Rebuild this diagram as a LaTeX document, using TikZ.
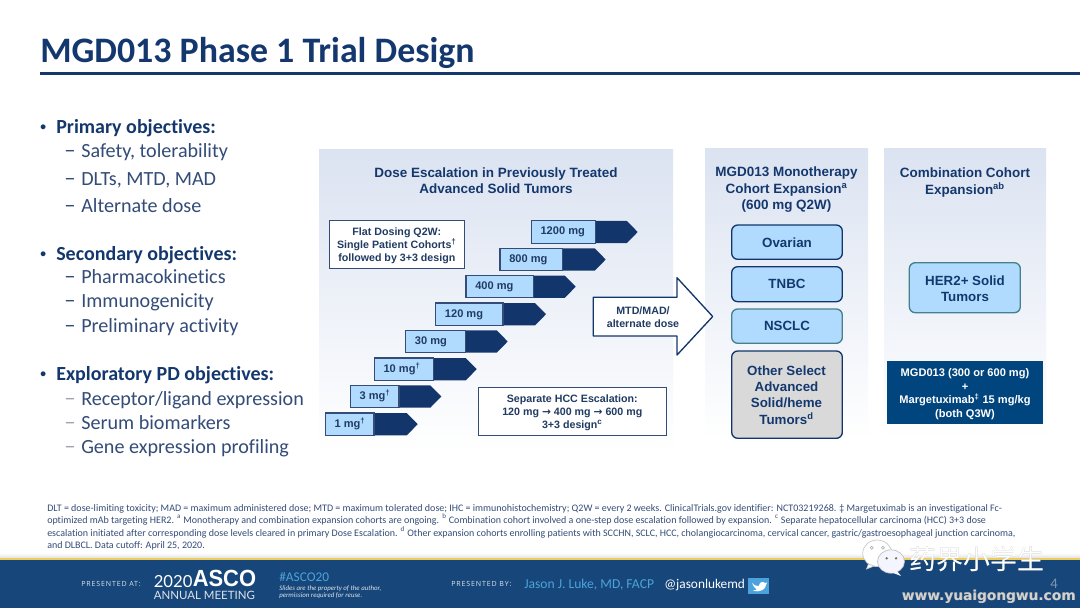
\documentclass[tikz,border=0pt]{standalone}
\usepackage{fontspec}
\setmainfont{Liberation Sans}
\newfontfamily\calfont[Ligatures=NoCommon]{Carlito}
\newfontfamily\spacedfont[LetterSpace=12]{Open Sans}
\newfontfamily\latofont{Lato}
\newfontfamily\cjkfont{Noto Sans CJK SC}
\newfontfamily\symfont{DejaVu Sans}
\usepackage{tkz-euclide}
\usetikzlibrary{calc}
\definecolor{TitleClr}{rgb}{0.08,0.22,0.43}
\definecolor{SubClr}{rgb}{0.20,0.30,0.47}
\definecolor{GreyClr}{rgb}{0.62,0.65,0.70}
\definecolor{PanelClr}{rgb}{0.86,0.89,0.945}
\definecolor{LightClr}{rgb}{0.69,0.86,1}
\definecolor{DarkClr}{rgb}{0.07,0.21,0.42}
\definecolor{LabelClr}{rgb}{0.13,0.23,0.39}
\definecolor{TealClr}{rgb}{0.27,0.50,0.55}
\definecolor{ComboClr}{rgb}{0,0.27,0.49}
\definecolor{FootClr}{rgb}{0.09,0.28,0.48}
\definecolor{SkyClr}{rgb}{0.30,0.64,0.86}
\definecolor{GoldClr}{rgb}{0.93,0.80,0.35}
\definecolor{OtherClr}{rgb}{0.85,0.85,0.85}

\tikzset{
  HeadLabel/.style={align=center,text=TitleClr,font=\fontsize{10.1}{12.4}\selectfont\bfseries,inner sep=0},
  BoxLabel/.style={align=center,text=LabelClr,font=\fontsize{8}{9.8}\selectfont\bfseries,inner sep=0},
  DoseLabel/.style={anchor=west,text=LabelClr,font=\fontsize{8.3}{9.8}\selectfont\bfseries,inner sep=0,text height=6pt,text depth=1.7pt},
  CohortLabel/.style={align=center,text=TitleClr,font=\fontsize{10}{12.2}\selectfont\bfseries,inner sep=0},
  MainItem/.style={anchor=base west,text=TitleClr,font=\calfont\fontsize{15}{18}\selectfont\bfseries,inner sep=0},
  BulletMark/.style={anchor=base west,text=TitleClr,font=\calfont\fontsize{8.6}{10}\selectfont\bfseries,inner sep=0},
  SubItem/.style={anchor=base west,text=SubClr,font=\calfont\fontsize{15.1}{18}\selectfont,inner sep=0},
  DashMark/.style={anchor=base west,text=SubClr,font=\calfont\fontsize{17}{18}\selectfont,inner sep=0},
  NoteLine/.style={anchor=base west,text=SubClr,font=\calfont\fontsize{7.5}{9}\selectfont,inner sep=0},
  WhiteBox/.style={draw=SubClr,fill=white,line width=.8pt},
  CohortBox/.style={draw=DarkClr,fill=LightClr,line width=1pt,rounded corners=4.5pt},
  FootLabel/.style={anchor=base west,inner sep=0,text depth=0pt},
}

\newcommand{\DoseArrow}[6]{%
  \fill[DarkClr] (#4,#3) -- (#5-11,#3) -- (#5,#3+11.2) -- (#5-11,#3+22.4) -- (#4,#3+22.4) -- cycle;
  \draw[line width=.8pt,draw=SubClr,fill=LightClr] (#2,#3) rectangle (#4,#3+22.4);
  \node[DoseLabel] (#1) at (#2+9,#3+11.2) {#6};
}

\begin{document}
\begin{tikzpicture}[x=.75pt,y=-.75pt]
\useasboundingbox (0,0) rectangle (1080,608);
\fill[white] (0,0) rectangle (1080,608);

% title
\node[anchor=base west,text=TitleClr,font=\calfont\fontsize{26.9}{30}\selectfont\bfseries,inner sep=0] (title) at (40,62) {MGD013 Phase 1 Trial Design};
\fill[TitleClr] (40,71.5) rectangle (1080,74.5);

% objectives
\node[BulletMark] (bulletA) at (40,130.5) {•};
\node[MainItem] (primary) at (56,133.5) {Primary objectives:};
\node[DashMark] (dashA) at (64,157.5) {–};
\node[SubItem] (safety) at (81,157.5) {Safety, tolerability};
\node[DashMark] (dashB) at (64,185.5) {–};
\node[SubItem] (dlts) at (81,185.5) {DLTs, MTD, MAD};
\node[DashMark] (dashC) at (64,212.5) {–};
\node[SubItem] (alternate) at (81,212.5) {Alternate dose};

\node[BulletMark] (bulletB) at (40,257.5) {•};
\node[MainItem] (secondary) at (56,260.5) {Secondary objectives:};
\node[DashMark] (dashD) at (64,283.5) {–};
\node[SubItem] (pharma) at (81,283.5) {Pharmacokinetics};
\node[DashMark] (dashE) at (64,307.5) {–};
\node[SubItem] (immuno) at (81,307.5) {Immunogenicity};
\node[DashMark] (dashF) at (64,332.5) {–};
\node[SubItem] (prelim) at (81,332.5) {Preliminary activity};

\node[BulletMark] (bulletC) at (40,377.5) {•};
\node[MainItem] (explore) at (56,380.5) {Exploratory PD objectives:};
\node[DashMark,text=GreyClr] (dashG) at (64,405.5) {–};
\node[SubItem] (receptor) at (81,405.5) {Receptor/ligand expression};
\node[DashMark,text=GreyClr] (dashH) at (64,429.5) {–};
\node[SubItem] (serum) at (81,429.5) {Serum biomarkers};
\node[DashMark,text=GreyClr] (dashI) at (64,453.5) {–};
\node[SubItem] (gene) at (81,453.5) {Gene expression profiling};

% panels
\shade[top color=PanelClr,bottom color=white] (319,149) rectangle (673,452);
\shade[top color=PanelClr,bottom color=white] (705,148) rectangle (868,440);
\shade[top color=PanelClr,bottom color=white] (884,148) rectangle (1046,440);

\node[HeadLabel] (doseHead) at (496,180.5) {Dose Escalation in Previously Treated\\Advanced Solid Tumors};
\node[HeadLabel] (monoHead) at (786.5,190) {MGD013 Monotherapy\\Cohort Expansion\textsuperscript{a}\\(600 mg Q2W)};
\node[HeadLabel] (comboHead) at (965,182.5) {Combination Cohort\\Expansion\textsuperscript{ab}};

% dose steps
\DoseArrow{doseK}{531.3}{220.8}{595.3}{637.7}{1200 mg}
\DoseArrow{doseJ}{500}{248.3}{562.7}{605.7}{800 mg}
\DoseArrow{doseI}{466}{275.5}{533.3}{575.7}{400 mg}
\DoseArrow{doseH}{435.7}{303}{503}{546}{120 mg}
\DoseArrow{doseG}{405.7}{330.3}{465.7}{507.7}{30 mg}
\DoseArrow{doseF}{374.3}{358}{433.7}{476.7}{10 mg\textsuperscript{†}}
\DoseArrow{doseE}{350.3}{385.3}{399}{441.3}{3 mg\textsuperscript{†}}
\DoseArrow{doseD}{325.3}{413}{374}{417.7}{1 mg\textsuperscript{†}}

\draw[WhiteBox] (329.3,220.8) rectangle (464.3,268.3);
\node[BoxLabel] (flat) at (396.8,246) {Flat Dosing Q2W:\\Single Patient Cohorts\textsuperscript{†}\\followed by 3+3 design};
\draw[WhiteBox] (478.3,387.7) rectangle (666.3,435.3);
\node[BoxLabel] (hcc) at (572.3,412.5) {Separate HCC Escalation:\\120 mg {\symfont→} 400 mg {\symfont→} 600 mg\\3+3 design\textsuperscript{c}};

% big arrow
\tkzDefPoints{593.3/297.3/P,677/297.3/Q,677/277.7/R,712.7/316.5/S,677/355/T,677/336/U,593.3/336/V}
\tkzFillPolygon[fill=white](P,Q,R,S,T,U,V)
\tkzDrawPolygon[line width=1pt,color=DarkClr](P,Q,R,S,T,U,V)
\node[BoxLabel] (mtd) at (643,317) {MTD/MAD/\\alternate dose};

% cohorts
\draw[CohortBox] (731.7,225) rectangle (842.3,259.3);
\node[CohortLabel] (ovarian) at (787,242.5) {Ovarian};
\draw[CohortBox] (731.7,266.7) rectangle (842.3,301.7);
\node[CohortLabel] (tnbc) at (787,284) {TNBC};
\draw[CohortBox,draw=TealClr] (731.7,309) rectangle (842.3,343.3);
\node[CohortLabel] (nsclc) at (787,326) {NSCLC};
\draw[CohortBox,fill=OtherClr] (731.7,351) rectangle (842.3,438.3);
\node[CohortLabel] (other) at (786.5,395) {Other Select\\Advanced\\Solid/heme\\Tumors\textsuperscript{d}};
\draw[CohortBox,draw=TealClr] (909.3,262.7) rectangle (1020.3,312.7);
\node[CohortLabel] (her2) at (965,288.5) {HER2+ Solid\\Tumors};
\fill[ComboClr] (887,360.7) rectangle (1042.7,424.3);
\node[BoxLabel,text=white,font=\fontsize{8.3}{10.3}\selectfont\bfseries] (combo) at (965,394) {MGD013 (300 or 600 mg)\\+\\Margetuximab\textsuperscript{‡} 15 mg/kg\\(both Q3W)};

% footnotes
\node[NoteLine] (noteA) at (47,511) {DLT = dose-limiting toxicity; MAD = maximum administered dose; MTD = maximum tolerated dose; IHC = immunohistochemistry;  Q2W = every 2 weeks. ClinicalTrials.gov identifier: NCT03219268. ‡ Margetuximab is an investigational Fc-};
\node[NoteLine] (noteB) at (47,523) {optimized mAb targeting HER2. \textsuperscript{a} Monotherapy and combination expansion cohorts are ongoing. \textsuperscript{b} Combination cohort involved  a one-step dose escalation followed by expansion. \textsuperscript{c} Separate hepatocellular carcinoma (HCC) 3+3 dose};
\node[NoteLine] (noteC) at (47,536) {escalation initiated after corresponding dose levels cleared in primary Dose Escalation. \textsuperscript{d} Other expansion cohorts enrolling patients with SCCHN, SCLC, HCC, cholangiocarcinoma, cervical cancer, gastric/gastroesophageal junction carcinoma,};
\node[NoteLine] (noteD) at (47,548) {and DLBCL.  Data cutoff: April 25, 2020.};

% footer band
\shade[top color=white,bottom color=black!12] (0,553) rectangle (1080,558);
\fill[GoldClr] (0,558) rectangle (1080,560);
\fill[FootClr] (0,560) rectangle (1080,608);
\node[FootLabel,text=white!85!FootClr,font=\spacedfont\fontsize{5.3}{6}\selectfont] (presAt) at (81,586) {PRESENTED AT:};
\node[FootLabel,text=white,font=\latofont\fontsize{12.5}{14}\selectfont] (year) at (153.5,587) {2020};
\node[FootLabel,text=white,font=\bfseries\fontsize{17.5}{18}\selectfont] (asco) at (192.5,586.5) {\scalebox{.94}[1]{ASCO}};
\node[FootLabel,text=white!85!FootClr,font=\latofont\fontsize{8.6}{9}\selectfont,text height=5.5pt] (annual) at (153.5,599) {ANNUAL MEETING};
\node[FootLabel,text=SkyClr,font=\calfont\fontsize{10}{12}\selectfont] (hash) at (279,581) {\#ASCO20};
\node[FootLabel,text=white!85!FootClr,font=\calfont\itshape\fontsize{5.15}{6}\selectfont] (slidesA) at (279,590) {Slides are the property of the author,};
\node[FootLabel,text=white!85!FootClr,font=\calfont\itshape\fontsize{5.15}{6}\selectfont] (slidesB) at (279,597.5) {permission required for reuse.};
\node[FootLabel,text=white!85!FootClr,font=\spacedfont\fontsize{5.3}{6}\selectfont] (presBy) at (451,586) {PRESENTED BY:};
\node[FootLabel,text=SkyClr,font=\calfont\fontsize{10.2}{12}\selectfont] (speaker) at (524,588) {Jason J. Luke, MD, FACP};
\node[FootLabel,text=white,font=\calfont\fontsize{10}{12}\selectfont] (handle) at (664,588) {@jasonlukemd};
\fill[SkyClr] (748,578) rectangle (769,594);
\fill[white] (752,583) .. controls (755,586) and (757,586) .. (759,586) .. controls (759,582) and (763,581) .. (765,583) -- (767,582.5) -- (766,585) .. controls (766,589) and (760,593) .. (753,590.5) .. controls (755,590.5) and (756,590) .. (757,589) .. controls (755,589) and (753,586) .. (752,583) -- cycle;
\node[FootLabel,text=black!10!FootClr!55!white,font=\calfont\fontsize{11}{11}\selectfont,text height=5.5pt] (page) at (1050,588) {4};

% watermark
\draw[black!22,line width=.5pt,fill=white] (877.2,553.3) ellipse (14.5 and 13.3);
\draw[black!22,line width=.5pt,fill=white] (868.5,564) -- (866.5,569) -- (874,566) -- cycle;
\draw[black!35,fill=white,line width=.4pt] (871.7,547.7) circle (1.5);
\draw[black!35,fill=white,line width=.4pt] (883,547.7) circle (1.5);
\draw[black!25,line width=.5pt,fill=black!3!blue!4!white] (891,561.5) ellipse (13.5 and 11.7);
\fill[black!3!blue!4!white] (897,571) -- (901,576) -- (892,572.5) -- cycle;
\fill[black!60!yellow] (886.7,558.3) circle (1.3);
\fill[black!60!yellow] (896,558.3) circle (1.3);
\node[anchor=west,inner sep=0,text=black!35,font=\cjkfont\fontsize{20.2}{22}\selectfont] (brandShadow) at (909.7,559.7) {药界小学生};
\node[anchor=west,inner sep=0,text=white,font=\cjkfont\fontsize{20.2}{22}\selectfont] (brand) at (909,559) {药界小学生};
\node[FootLabel,text=black!50,font=\symfont\bfseries\fontsize{10.3}{11}\selectfont,text height=5pt] (webShadow) at (902.2,600.6) {www.yuaigongwu.com};
\node[FootLabel,text=white!82!black,font=\symfont\bfseries\fontsize{10.3}{11}\selectfont,text height=5pt] (web) at (901.7,600) {www.yuaigongwu.com};
\end{tikzpicture}
\end{document}
